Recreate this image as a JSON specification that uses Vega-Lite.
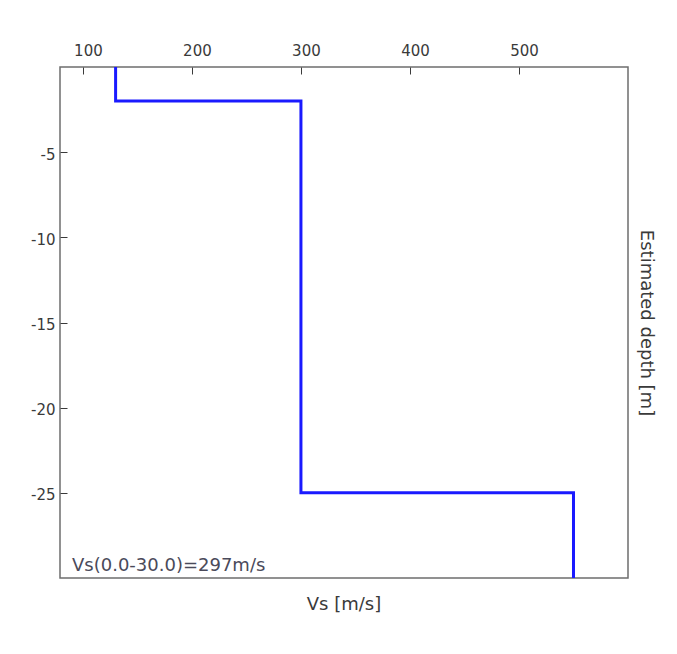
{
  "$schema": "https://vega.github.io/schema/vega-lite/v6.json",
  "autosize": {"type": "none"},
  "width": 568,
  "height": 511,
  "padding": {"left": 60, "top": 67, "right": 49, "bottom": 76},
  "background": "white",
  "config": {
    "font": "DejaVu Sans",
    "view": {"stroke": "#6e6e6e", "strokeWidth": 1.5},
    "axis": {
      "labelFont": "DejaVu Sans",
      "labelFontSize": 15,
      "labelColor": "#3a3a3a",
      "tickColor": "#3a3a3a",
      "grid": false,
      "domain": false,
      "titleFont": "DejaVu Sans",
      "titleFontWeight": "normal",
      "titleColor": "#3a3a3a"
    }
  },
  "title": {
    "text": "Vs [m/s]",
    "orient": "bottom",
    "anchor": "middle",
    "offset": 18,
    "font": "DejaVu Sans",
    "fontSize": 18,
    "fontWeight": "normal",
    "color": "#3a3a3a"
  },
  "layer": [
    {
      "data": {
        "values": [
          {"step": 1, "vs": 130, "depth": 0},
          {"step": 2, "vs": 130, "depth": -2},
          {"step": 3, "vs": 300, "depth": -2},
          {"step": 4, "vs": 300, "depth": -25},
          {"step": 5, "vs": 550, "depth": -25},
          {"step": 6, "vs": 550, "depth": -30}
        ]
      },
      "mark": {"type": "line", "color": "#1a1aff", "strokeWidth": 3, "clip": true, "strokeJoin": "miter", "strokeCap": "butt"},
      "encoding": {
        "x": {
          "field": "vs",
          "type": "quantitative",
          "scale": {"domain": [79, 600], "nice": false, "zero": false},
          "axis": {
            "orient": "top",
            "title": null,
            "values": [100, 200, 300, 400, 500],
            "tickSize": -7,
            "labelPadding": 16,
            "labelOffset": 5
          }
        },
        "y": {
          "field": "depth",
          "type": "quantitative",
          "scale": {"domain": [-30, 0], "nice": false, "zero": false},
          "axis": {
            "orient": "left",
            "title": null,
            "values": [-5, -10, -15, -20, -25],
            "tickSize": -7,
            "labelPadding": 12,
            "labelOffset": 2,
            "labelExpr": "replace(datum.label, '\u2212', '-')"
          }
        },
        "order": {"field": "step", "type": "quantitative"}
      }
    },
    {
      "data": {"values": [{"label": "Vs(0.0-30.0)=297m/s"}]},
      "mark": {"type": "text", "align": "left", "baseline": "bottom", "fontSize": 18, "fontWeight": "normal", "fill": "#4a4a5a", "font": "DejaVu Sans"},
      "encoding": {
        "x": {"datum": 90, "type": "quantitative"},
        "y": {
          "datum": -29.85,
          "type": "quantitative",
          "axis": {
            "orient": "right",
            "title": "Estimated depth [m]",
            "titleAngle": 90,
            "titleFontSize": 18,
            "titlePadding": 8,
            "labels": false,
            "ticks": false,
            "domain": false
          }
        },
        "text": {"field": "label", "type": "nominal"}
      }
    }
  ],
  "resolve": {"axis": {"y": "independent"}}
}
